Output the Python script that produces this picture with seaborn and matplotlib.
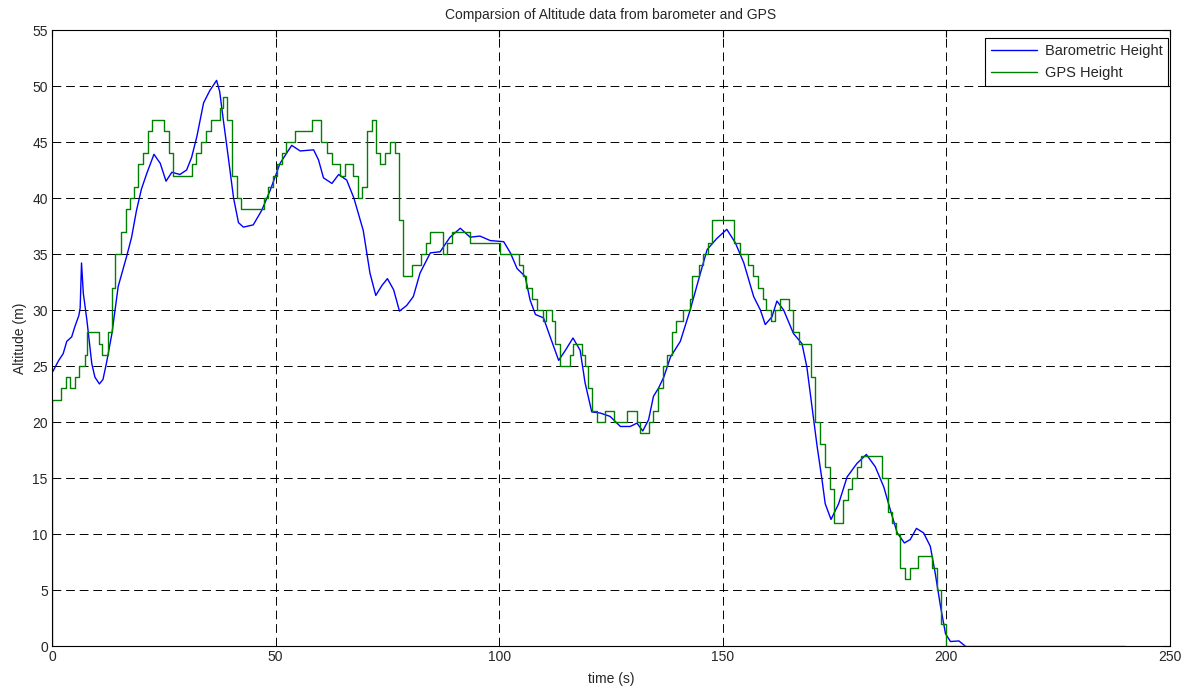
import pandas as pd
import matplotlib
matplotlib.use("Agg")
import matplotlib.pyplot as plt
import seaborn as sns

# barometric height (s, m)
baro_t = [0.0, 0.3, 1.5, 2.5, 3.3, 4.4, 5.1, 6.0, 6.3, 6.6, 7.0, 7.8, 8.9, 9.6, 10.6, 11.4,
          12.2, 13.4, 14.8, 16.7, 17.8, 18.9, 20.0, 21.2, 22.8, 24.2, 25.5, 26.8, 28.6, 30.1,
          31.2, 32.4, 33.9, 35.3, 36.8, 37.5, 38.3, 39.4, 40.6, 41.7, 42.8, 45.0, 46.9, 48.8,
          51.0, 53.6, 55.5, 58.5, 59.6, 60.7, 62.6, 64.1, 65.9, 67.5, 69.6, 71.1, 72.4, 73.8,
          75.0, 76.4, 77.7, 79.3, 80.8, 82.3, 84.6, 86.8, 89.0, 91.3, 93.5, 95.7, 98.0, 101.0,
          102.5, 104.0, 105.8, 106.9, 108.1, 109.9, 111.4, 113.3, 114.8, 116.5, 118.1, 119.2,
          120.7, 122.6, 124.8, 127.1, 129.3, 130.8, 132.1, 133.4, 134.5, 135.6, 136.8, 138.3,
          140.5, 142.7, 145.0, 146.5, 148.7, 150.9, 152.8, 154.7, 156.9, 158.4, 159.5, 161.0,
          162.1, 163.6, 165.8, 167.7, 168.8, 170.0, 171.1, 172.2, 172.9, 174.2, 175.9, 177.8,
          180.0, 182.1, 184.1, 186.0, 187.5, 189.0, 190.6, 191.9, 193.3, 194.9, 196.4, 197.5,
          198.7, 199.8, 200.9, 202.8, 204.2]
baro_h = [24.4, 24.6, 25.5, 26.1, 27.2, 27.6, 28.5, 29.5, 30.2, 34.2, 31.5, 29.1, 25.2, 24.0, 23.4, 23.8,
          25.3, 27.9, 32.1, 34.8, 36.5, 38.9, 40.8, 42.2, 43.9, 43.1, 41.5, 42.3, 42.1, 42.5,
          43.6, 45.5, 48.5, 49.6, 50.5, 49.5, 47.0, 43.7, 40.0, 37.8, 37.4, 37.6, 38.9, 40.7,
          43.1, 44.7, 44.2, 44.3, 43.4, 41.8, 41.3, 42.1, 41.6, 40.0, 37.1, 33.3, 31.3, 32.2,
          32.8, 31.8, 29.9, 30.4, 31.2, 33.3, 35.1, 35.2, 36.5, 37.3, 36.5, 36.6, 36.2, 36.1,
          35.1, 33.7, 33.0, 30.9, 29.6, 29.3, 27.6, 25.5, 26.4, 27.5, 26.4, 23.5,
          20.9, 20.8, 20.5, 19.6, 19.6, 19.9, 19.2, 20.2, 22.3, 23.0, 24.0, 25.8,
          27.2, 30.0, 33.3, 35.4, 36.4, 37.2, 36.0, 34.2, 31.2, 30.0, 28.7, 29.4,
          30.8, 30.0, 27.9, 27.0, 24.9, 21.2, 17.8, 14.8, 12.7, 11.3, 12.7, 15.1,
          16.3, 17.1, 16.0, 14.2, 12.1, 10.1, 9.2, 9.5, 10.5, 10.1, 8.9, 6.5,
          3.5, 1.1, 0.4, 0.45, 0.0]

# GPS height, change points of the step signal
gps_t = [0.0, 0.0, 2.0, 3.1, 4.0, 5.1, 6.1, 7.4, 7.9, 10.4, 11.1, 12.5, 13.4, 14.1, 15.4, 16.5,
         17.4, 18.4, 19.3, 20.3, 21.4, 22.3, 25.1, 26.2, 27.1, 31.2, 32.1, 33.3, 34.4, 35.5,
         37.6, 38.3, 39.2, 40.2, 41.3, 42.3, 47.3, 48.4, 49.4, 50.3, 51.4, 52.3, 54.4, 58.2,
         60.1, 61.5, 62.6, 64.4, 65.5, 67.4, 68.5, 69.4, 70.4, 71.5, 72.4, 73.4, 74.5, 75.6,
         76.6, 77.6, 78.6, 80.5, 82.5, 83.7, 84.6, 87.4, 88.3, 89.4, 93.5, 100.2, 104.5, 105.4,
         106.0, 107.3, 108.4, 109.8, 110.5, 111.8, 112.5, 113.6, 115.9, 116.6, 118.5, 119.2,
         119.8, 120.7, 121.9, 123.7, 125.6, 128.5, 130.8, 131.5, 133.6, 134.5, 135.6, 136.6,
         137.5, 138.6, 139.6, 141.2, 142.6, 143.1, 144.6, 145.6, 146.6, 147.6, 152.6, 153.8,
         155.6, 156.7, 157.8, 158.9, 159.7, 160.8, 161.7, 162.9, 164.7, 165.7, 167.0, 169.7,
         170.7, 171.8, 172.8, 173.9, 174.8, 176.9, 177.9, 178.9, 180.0, 181.0, 185.7, 186.9,
         187.8, 188.8, 189.7, 190.8, 191.8, 193.7, 196.8, 197.8, 198.8, 199.8, 240.0]
gps_h = [0, 22, 23, 24, 23, 24, 25, 26, 28, 27, 26, 28, 32, 35, 37, 39,
         40, 41, 43, 44, 46, 47, 46, 44, 42, 43, 44, 45, 46, 47,
         48, 49, 47, 42, 40, 39, 40, 41, 42, 43, 44, 45, 46, 47,
         45, 44, 43, 42, 43, 42, 40, 41, 46, 47, 44, 43, 44, 45,
         44, 38, 33, 34, 35, 36, 37, 35, 36, 37, 36, 35, 34, 33,
         32, 31, 30, 29, 30, 29, 27, 25, 26, 27, 26, 25,
         23, 21, 20, 21, 20, 21, 20, 19, 20, 21, 23, 25,
         26, 28, 29, 30, 31, 33, 34, 35, 36, 38, 36, 35,
         34, 33, 32, 31, 30, 29, 30, 31, 30, 28, 27, 24,
         20, 18, 16, 14, 11, 13, 14, 15, 16, 17, 15, 12,
         11, 10, 7, 6, 7, 8, 7, 5, 2, 0, 0]

x_ticks = [0, 50, 100, 150, 200, 250]
y_ticks = list(range(0, 56, 5))

baro = pd.DataFrame({"t": baro_t, "h": baro_h})
gps = pd.DataFrame({"t": gps_t, "h": gps_h})

sns.set_theme(style="white")
plt.rcParams["font.family"] = ["Liberation Sans", "DejaVu Sans"]
plt.rcParams["xtick.direction"] = "in"
plt.rcParams["ytick.direction"] = "in"

fig = plt.figure(figsize=(11.94, 6.9), dpi=100)
ax = fig.add_axes([52 / 1194, 44 / 690, 1118 / 1194, 616 / 690])

sns.lineplot(data=baro, x="t", y="h", ax=ax, color="#0000ff", linewidth=1.0,
             estimator=None, sort=False, label="Barometric Height")
sns.lineplot(data=gps, x="t", y="h", ax=ax, color="#008000", linewidth=1.0,
             estimator=None, sort=False, drawstyle="steps-post", label="GPS Height")

ax.set_xlim(0, 250)
ax.set_ylim(0, 55)
ax.set_xticks(x_ticks)
ax.set_yticks(y_ticks)
ax.tick_params(axis="both", labelsize=10, length=5, width=0.8, color="black",
               top=True, right=True, pad=3)
ax.grid(True, color="black", linestyle=(0, (9, 5)), linewidth=0.7)
for s in ax.spines.values():
    s.set_color("black")
    s.set_linewidth(0.8)

ax.set_title("Comparsion of Altitude data from barometer and GPS", fontsize=10, pad=8)
ax.set_xlabel("time (s)", fontsize=10, labelpad=6)
ax.set_ylabel("Altitude (m)", fontsize=10, labelpad=4)

leg = ax.legend(loc="upper right", bbox_to_anchor=(0.9985, 0.987), borderaxespad=0,
                fontsize=10.5, frameon=True, fancybox=False, edgecolor="black",
                framealpha=1, handlelength=3.2, borderpad=0.4, labelspacing=0.55,
                handletextpad=0.5)
leg.get_frame().set_linewidth(0.8)

fig.savefig("out.png", dpi=100)
